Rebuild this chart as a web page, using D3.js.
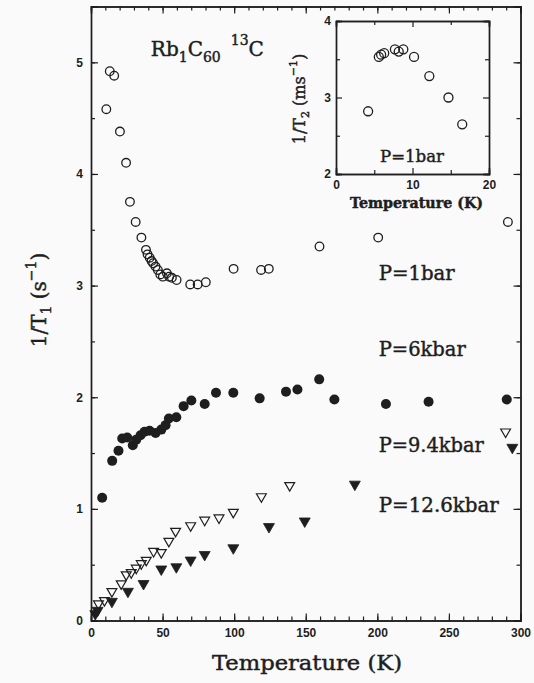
<!DOCTYPE html>
<html><head><meta charset="utf-8">
<script src="https://cdn.jsdelivr.net/npm/d3@7"></script>
<style>
html,body{margin:0;padding:0;background:#fafafa;}
svg{display:block;}
</style></head>
<body>
<svg id="chart" width="534" height="683"></svg>
<script>
// ---- data (T in K, 1/T1 in s^-1) ----
const p1bar = [[10.7,4.58],[13.1,4.92],[16.2,4.88],[20.2,4.38],[24.5,4.10],[27.2,3.75],[31.2,3.57],[35.2,3.43],[38.4,3.32],[39.5,3.28],[41.0,3.25],[42.3,3.22],[43.4,3.20],[45.1,3.17],[46.7,3.14],[48.4,3.10],[50.2,3.08],[53.0,3.11],[54.6,3.08],[56.5,3.07],[59.8,3.05],[69.3,3.01],[74.5,3.01],[80.2,3.03],[99.6,3.15],[118.8,3.14],[124.2,3.15],[159.6,3.35],[200.6,3.43],[291.2,3.57]];
const p6kbar = [[7.8,1.10],[14.8,1.43],[19.2,1.52],[21.8,1.63],[25.3,1.64],[29.2,1.57],[31.6,1.62],[34.6,1.66],[37.4,1.69],[40.9,1.70],[45.1,1.68],[49.1,1.71],[52.1,1.75],[54.4,1.81],[59.6,1.82],[64.7,1.92],[70.1,1.97],[79.4,1.94],[87.3,2.04],[99.4,2.04],[117.8,1.99],[136.2,2.05],[144.2,2.07],[159.4,2.16],[170.0,1.98],[206.0,1.94],[235.8,1.96],[290.4,1.98]];
const p94kbar = [[5.2,0.15],[9.4,0.18],[14.6,0.26],[21.1,0.33],[24.6,0.41],[28.1,0.43],[31.6,0.47],[35.1,0.51],[38.6,0.54],[43.7,0.62],[49.1,0.61],[54.4,0.71],[59.1,0.80],[69.6,0.85],[79.4,0.90],[89.4,0.92],[99.4,0.97],[119.0,1.11],[138.8,1.21],[289.6,1.69]];
const p126kbar = [[3.0,0.06],[4.6,0.09],[14.6,0.17],[25.8,0.26],[36.7,0.33],[49.1,0.46],[59.6,0.48],[69.6,0.54],[79.4,0.59],[99.4,0.65],[124.3,0.84],[149.3,0.89],[184.3,1.22],[294.3,1.55]];
// inset: T (K), 1/T2 (ms^-1)
const insetT2 = [[4.2,2.82],[5.6,3.53],[5.9,3.56],[6.3,3.58],[7.7,3.63],[8.2,3.60],[8.8,3.63],[10.2,3.53],[12.2,3.28],[14.7,3.00],[16.5,2.65]];

const xMajor = [0,50,100,150,200,250,300];
const yMajor = [0,1,2,3,4,5];
const insetXMajor = [0,10,20];
const insetYMajor = [2,3,4];

const seriesLabels = [
  {text:"P=1bar", T:201, v:3.05, w:76},
  {text:"P=6kbar", T:201, v:2.37, w:87},
  {text:"P=9.4kbar", T:201, v:1.51, w:105},
  {text:"P=12.6kbar", T:201, v:0.97, w:120}
];

// ---- drawing ----
const svg = d3.select("#chart");
const ink = "#1e1e1e";
const serifFont = "'DejaVu Serif', 'Liberation Serif', serif";
const tickFont = "'Liberation Sans', Arial, sans-serif";

const x = d3.scaleLinear().domain([0,300]).range([91,520.5]);
const y = d3.scaleLinear().domain([0,5.5]).range([620.5,6.5]);

function minors(lo, hi, step){ const r=[]; for(let v=lo; v<=hi+1e-9; v+=step) r.push(+v.toFixed(6)); return r; }

function styleText(sel, size){
  return sel.style("font-family",serifFont).style("font-size",size+"px")
    .attr("fill",ink).attr("stroke",ink).attr("stroke-width",0.45);
}

function drawFrame(g, xs, ys, xMaj, yMaj, xMin, yMin, majLen, minLen, labelSize, xPad, yPad){
  const [x0,x1] = xs.range(), [y0,y1] = ys.range();
  const fmt = d3.format("d");
  g.append("g").attr("transform",`translate(0,${y0})`)
    .call(d3.axisBottom(xs).tickValues(xMaj).tickSize(-majLen).tickPadding(xPad).tickFormat(fmt));
  g.append("g").attr("transform",`translate(0,${y0})`)
    .call(d3.axisBottom(xs).tickValues(xMin).tickSize(-minLen).tickFormat(""));
  g.append("g").attr("transform",`translate(0,${y1})`)
    .call(d3.axisTop(xs).tickValues(xMaj).tickSize(-majLen).tickFormat(""));
  g.append("g").attr("transform",`translate(0,${y1})`)
    .call(d3.axisTop(xs).tickValues(xMin).tickSize(-minLen).tickFormat(""));
  g.append("g").attr("transform",`translate(${x0},0)`)
    .call(d3.axisLeft(ys).tickValues(yMaj).tickSize(-majLen).tickPadding(yPad).tickFormat(fmt));
  g.append("g").attr("transform",`translate(${x0},0)`)
    .call(d3.axisLeft(ys).tickValues(yMin).tickSize(-minLen).tickFormat(""));
  g.append("g").attr("transform",`translate(${x1},0)`)
    .call(d3.axisRight(ys).tickValues(yMaj).tickSize(-majLen).tickFormat(""));
  g.append("g").attr("transform",`translate(${x1},0)`)
    .call(d3.axisRight(ys).tickValues(yMin).tickSize(-minLen).tickFormat(""));
  g.selectAll(".domain").attr("stroke",ink).attr("stroke-width",1.4);
  g.selectAll(".tick line").attr("stroke",ink).attr("stroke-width",1.2);
  g.selectAll(".tick text").attr("fill",ink).style("font-family",tickFont)
    .style("font-size",labelSize+"px").style("font-weight","bold");
}

const main = svg.append("g");
drawFrame(main, x, y, xMajor, yMajor, minors(0,300,10), minors(0,5.5,0.5), 7, 4, 12, 8, 8);

const sym = (type,size)=>d3.symbol().type(type).size(size)();
function plot(data, kind){
  const g = main.append("g");
  if(kind==="open"){
    g.selectAll("circle").data(data).join("circle")
      .attr("cx",d=>x(d[0])).attr("cy",d=>y(d[1])).attr("r",4.3)
      .attr("fill","none").attr("stroke",ink).attr("stroke-width",1.3);
  } else if(kind==="filled"){
    g.selectAll("circle").data(data).join("circle")
      .attr("cx",d=>x(d[0])).attr("cy",d=>y(d[1])).attr("r",5)
      .attr("fill",ink);
  } else {
    g.selectAll("path").data(data).join("path")
      .attr("d", sym(d3.symbolTriangle, kind==="tri-open"?42:52))
      .attr("transform",d=>`translate(${x(d[0])},${y(d[1])}) rotate(180)`)
      .attr("fill", kind==="tri-open"?"none":ink)
      .attr("stroke",ink).attr("stroke-width", kind==="tri-open"?1.2:0.8);
  }
}
plot(p1bar,"open");
plot(p6kbar,"filled");
plot(p94kbar,"tri-open");
plot(p126kbar,"tri-filled");

// series labels
styleText(main.selectAll("text.slab").data(seriesLabels).join("text").attr("class","slab")
  .attr("x",d=>x(d.T)).attr("y",d=>y(d.v)).text(d=>d.text)
  .attr("textLength",d=>d.w).attr("lengthAdjust","spacingAndGlyphs"), 20);

// compound label
const comp = styleText(main.append("text").attr("x",x(41.8)).attr("y",y(5.06)), 20);
comp.append("tspan").text("Rb");
comp.append("tspan").text("1").attr("dy",6).style("font-size","14px");
comp.append("tspan").text("C").attr("dy",-6);
comp.append("tspan").text("60").attr("dy",6).style("font-size","14px");
comp.append("tspan").text("13").attr("dy",-17).attr("dx",10).style("font-size","14px");
comp.append("tspan").text("C").attr("dy",11);

// axis titles
styleText(main.append("text").attr("x",212).attr("y",670)
  .attr("textLength",190).attr("lengthAdjust","spacingAndGlyphs")
  .text("Temperature (K)"), 20);
const yt = styleText(main.append("text").attr("transform",`translate(46,300) rotate(-90)`).attr("text-anchor","middle"), 20);
yt.append("tspan").text("1/T");
yt.append("tspan").text("1").attr("dy",5).style("font-size","14px");
yt.append("tspan").text(" (s").attr("dy",-5);
yt.append("tspan").text("−1").attr("dy",-10).style("font-size","14px");
yt.append("tspan").text(")").attr("dy",10);

// ---- inset ----
const ix = d3.scaleLinear().domain([0,20]).range([336,489]);
const iy = d3.scaleLinear().domain([2,4]).range([174,21]);
const inset = svg.append("g");
inset.append("rect").attr("x",336).attr("y",21).attr("width",153).attr("height",153).attr("fill","#fafafa");
drawFrame(inset, ix, iy, insetXMajor, insetYMajor, [5,15], [2.5,3.5], 6, 4, 12, 6, 5);
inset.append("g").selectAll("circle").data(insetT2).join("circle")
  .attr("cx",d=>ix(d[0])).attr("cy",d=>iy(d[1])).attr("r",4.5)
  .attr("fill","none").attr("stroke",ink).attr("stroke-width",1.3);
styleText(inset.append("text").attr("x",380).attr("y",162).text("P=1bar")
  .attr("textLength",64).attr("lengthAdjust","spacingAndGlyphs"), 17);
styleText(inset.append("text").attr("x",350).attr("y",208)
  .attr("textLength",133).attr("lengthAdjust","spacingAndGlyphs")
  .style("font-weight","bold").text("Temperature (K)"), 14);
const it = styleText(inset.append("text").attr("transform",`translate(305,99) rotate(-90)`).attr("text-anchor","middle"), 16);
it.append("tspan").text("1/T");
it.append("tspan").text("2").attr("dy",4).style("font-size","11px");
it.append("tspan").text(" (ms").attr("dy",-4);
it.append("tspan").text("−1").attr("dy",-8).style("font-size","11px");
it.append("tspan").text(")").attr("dy",8);
</script>
</body></html>
